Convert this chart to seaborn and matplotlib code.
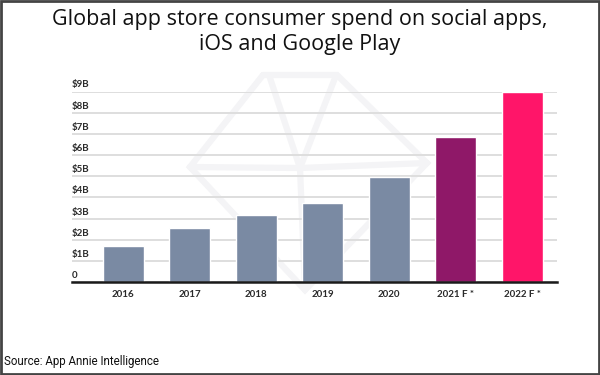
import matplotlib
matplotlib.use('Agg')
import matplotlib.pyplot as plt
import matplotlib.transforms as mtrans
import seaborn as sns
import pandas as pd

# Chart data
years = ["2016", "2017", "2018", "2019", "2020", "2021 F *", "2022 F *"]
spend_billion = [1.7, 2.55, 3.15, 3.75, 4.95, 6.85, 9.0]
bar_colors = ["#7a8aa3", "#7a8aa3", "#7a8aa3", "#7a8aa3", "#7a8aa3", "#8f1868", "#ff1569"]
y_ticks = [0, 1, 2, 3, 4, 5, 6, 7, 8, 9]
y_tick_labels = ["0", "$1B", "$2B", "$3B", "$4B", "$5B", "$6B", "$7B", "$8B", "$9B"]

title = "Global app store consumer spend on social apps,\niOS and Google Play"
source = "Source: App Annie Intelligence"

df = pd.DataFrame({"year": years, "spend": spend_billion})

sns.set_theme(style="white")
plt.rcParams['font.family'] = ['Open Sans', 'DejaVu Sans']

fig = plt.figure(figsize=(6, 3.75), dpi=100)

# faint diamond watermark behind the chart (figure pixel coords -> fraction)
def px(x, y):
    return (x / 600, 1 - y / 375)

wm = dict(transform=fig.transFigure, color='#f4f4f6', linewidth=4.5, zorder=-1,
          solid_joinstyle='miter')
outer = [px(263, 75), px(337, 75), px(427, 163), px(305, 290), px(190, 167), px(263, 75)]
fig.add_artist(plt.Line2D([p[0] for p in outer], [p[1] for p in outer], **wm))
inner = [px(270, 78), px(300, 168), px(335, 78)]
fig.add_artist(plt.Line2D([p[0] for p in inner], [p[1] for p in inner], **wm))
girdle = [px(190, 167), px(300, 168), px(427, 163)]
fig.add_artist(plt.Line2D([p[0] for p in girdle], [p[1] for p in girdle], **wm))
fig.add_artist(plt.Line2D([px(300, 168)[0], px(305, 290)[0]],
                          [px(300, 168)[1], px(305, 290)[1]], **wm))

ax = fig.add_axes([0.12, 0.248, 0.808, 0.508])
ax.patch.set_alpha(0)

sns.barplot(data=df, x="year", y="spend", hue="year", palette=bar_colors,
            legend=False, width=0.62, saturation=1, ax=ax, zorder=3)

ax.set_ylim(0, 9.0)
ax.set_xlim(-0.77, 6.52)
ax.set_yticks(y_ticks)
ax.set_yticklabels(y_tick_labels)
ax.grid(axis='y', color='#dedede', linewidth=1.4, zorder=0)
ax.set_axisbelow(True)
ax.set_xlabel("")
ax.set_ylabel("")

for side in ["top", "right", "left"]:
    ax.spines[side].set_visible(False)
ax.spines["bottom"].set_color("#1a1a1a")
ax.spines["bottom"].set_linewidth(1.8)
ax.spines["bottom"].set_zorder(5)

ax.tick_params(axis='y', length=0, pad=0)
ax.tick_params(axis='x', length=0, pad=6)
for lab in ax.get_yticklabels():
    lab.set_horizontalalignment('left')
    lab.set_verticalalignment('bottom')
    lab.set_fontsize(7)
    lab.set_fontweight('bold')
    lab.set_color('#2a2a2a')
    lab.set_family(['Lato', 'DejaVu Sans'])
for lab in ax.get_xticklabels():
    lab.set_fontsize(7)
    lab.set_fontweight('bold')
    lab.set_color('#2a2a2a')
    lab.set_family(['Lato', 'DejaVu Sans'])

# shift y tick labels into the plot area so they sit above each gridline
offset = mtrans.ScaledTranslation(0.0, 0.02, fig.dpi_scale_trans)
for lab in ax.get_yticklabels():
    lab.set_transform(lab.get_transform() + offset)

fig.text(0.5, 0.975, title, ha='center', va='top', fontsize=15.5,
         color='#111111', linespacing=1.2)
fig.text(0.007, 0.018, source, ha='left', va='bottom', fontsize=8.3,
         color='#111111', family=['Roboto', 'DejaVu Sans'])

# outer frame
fig.patches.append(plt.Rectangle((0.0015, 0.0025), 0.996, 0.995, transform=fig.transFigure,
                                 fill=False, edgecolor='#444444', linewidth=2))

fig.savefig("out.png", dpi=100)
plt.close(fig)
